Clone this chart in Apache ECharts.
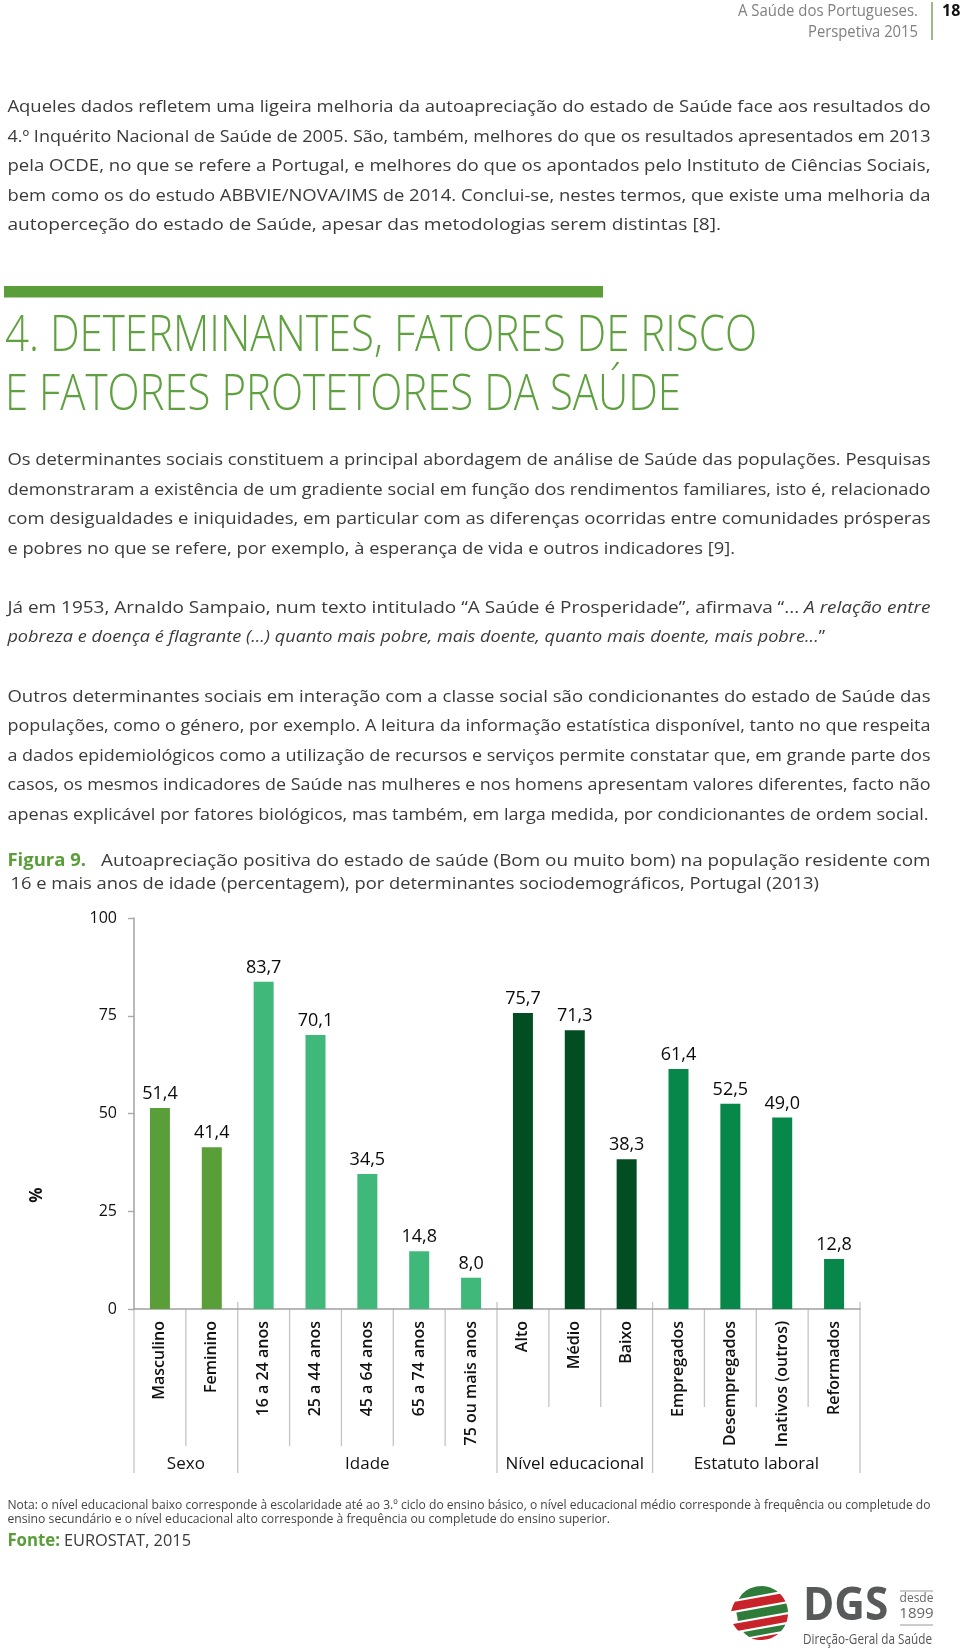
<!DOCTYPE html>
<html><head><meta charset="utf-8">
<script src="https://cdn.jsdelivr.net/npm/echarts@6.0.0/dist/echarts.min.js"></script>
<style>html,body{margin:0;padding:0;background:#fff}#c{width:960px;height:1648px}</style>
</head><body><div id="c"></div>
<script>
// ---------- data ----------
const categories = ['Masculino','Feminino','16 a 24 anos','25 a 44 anos','45 a 64 anos','65 a 74 anos','75 ou mais anos','Alto','Médio','Baixo','Empregados','Desempregados','Inativos (outros)','Reformados'];
const values = [51.4,41.4,83.7,70.1,34.5,14.8,8.0,75.7,71.3,38.3,61.4,52.5,49.0,12.8];
const groupNames = ['Sexo','Idade','Nível educacional','Estatuto laboral'];
const groupSizes = [2,5,3,4];
const groupColors = ['#5a9e3a','#40b879','#034d22','#07884a'];
const yTickMin = 0, yTickMax = 100, yTickStep = 25;

const FONT = "'Open Sans', 'Noto Sans', sans-serif";
const GREEN = '#5a9e3a';
const BODY = '#3a3a3a';

const cv = document.createElement('canvas').getContext('2d');
function measure(t, size, weight, style){ cv.font = `${style||'normal'} ${weight||'normal'} ${size}px ${FONT}`; return cv.measureText(t).width; }
function T(text, x, y, o){ o=o||{};
  return {type:'text', x, y, scaleX:o.sx||1, rotation:o.rot||0, silent:true,
    style:{text, fill:o.color||BODY, fontSize:o.size||17, fontFamily:FONT, fontWeight:o.weight||'normal', fontStyle:o.style||'normal',
      textAlign:o.align||'left', align:o.align||'left', textVerticalAlign:'middle', verticalAlign:'middle'}};
}
function fitLine(parts, x0, x1, y, base){
  const ws = parts.map(p=>measure(p.t, base.size, p.weight||base.weight, p.style||base.style));
  const total = ws.reduce((a,b)=>a+b,0);
  const sx = (x1-x0)/total;
  let cx = x0; const out=[];
  parts.forEach((p,i)=>{ out.push(T(p.t, cx, y, Object.assign({}, base, p, {sx}))); cx += ws[i]*sx; });
  return out;
}

const chart = echarts.init(document.getElementById('c'), null, {renderer:'canvas'});
const colorOf = [];
groupSizes.forEach((n,g)=>{ for(let k=0;k<n;k++) colorOf.push(groupColors[g]); });

chart.setOption({
  animation:false,
  backgroundColor:'#fff',
  grid:{left:134, right:100, top:918, bottom:339, containLabel:false, outerBoundsMode:'none'},
  xAxis:{type:'category', data:categories, boundaryGap:true,
    axisLine:{lineStyle:{color:'#a0a0a0', width:1.6}}, axisTick:{show:false},
    axisLabel:{interval:0, rotate:90, margin:12, fontSize:16, fontWeight:600, color:'#111', fontFamily:FONT}},
  yAxis:{type:'value', min:yTickMin, max:yTickMax, interval:yTickStep,
    axisLine:{show:true, lineStyle:{color:'#a8a8a8', width:1.6}},
    axisTick:{show:true, length:6, lineStyle:{color:'#a8a8a8', width:1.4}},
    splitLine:{show:false},
    axisLabel:{margin:17, fontSize:16, color:'#111', fontFamily:FONT}},
  series:[{type:'bar', barWidth:20,
    data: values.map((v,i)=>({value:v, itemStyle:{color:colorOf[i]}})),
    label:{show:true, position:'top', distance:5, fontSize:18, color:'#0a0a0a', fontFamily:FONT,
      formatter:p=>p.value.toFixed(1).replace('.',',')}}]
});

// ---------- page graphics ----------
const G = [];
// header
fitLine([{t:'A Saúde dos Portugueses.'}], 738, 918, 11, {size:16, color:'#808080'}).forEach(e=>G.push(e));
fitLine([{t:'Perspetiva 2015'}], 808, 918, 32, {size:16, color:'#808080'}).forEach(e=>G.push(e));
G.push({type:'line', silent:true, shape:{x1:932,y1:2,x2:932,y2:40}, style:{stroke:'#7aa35e', lineWidth:1.5}});
G.push(T('18', 942, 11, {size:16, weight:'bold', color:'#111'}));

const body = {size:17, color:BODY};
function para(lines, x0, ys, ends){
  lines.forEach((l,i)=>{ const parts = typeof l==='string' ? [{t:l}] : l; fitLine(parts, x0, ends[i], ys[i], body).forEach(e=>G.push(e)); });
}
para([
 'Aqueles dados refletem uma ligeira melhoria da autoapreciação do estado de Saúde face aos resultados do',
 '4.º Inquérito Nacional de Saúde de 2005. São, também, melhores do que os resultados apresentados em 2013',
 'pela OCDE, no que se refere a Portugal, e melhores do que os apontados pelo Instituto de Ciências Sociais,',
 'bem como os do estudo ABBVIE/NOVA/IMS de 2014. Conclui-se, nestes termos, que existe uma melhoria da',
 'autoperceção do estado de Saúde, apesar das metodologias serem distintas [8].'
], 7.4, [107,137,166,196,225], [930.5,930.5,930.5,930.5,721]);

// green bar + heading
G.push({type:'rect', silent:true, shape:{x:4, y:286, width:599, height:11.5}, style:{fill:GREEN}});
fitLine([{t:'4. DETERMINANTES, FATORES DE RISCO'}], 5, 757, 336.5, {size:50, weight:300, color:'#5fa03f'}).forEach(e=>G.push(e));
fitLine([{t:'E FATORES PROTETORES DA SAÚDE'}], 5, 681, 395.5, {size:50, weight:300, color:'#5fa03f'}).forEach(e=>G.push(e));

para([
 'Os determinantes sociais constituem a principal abordagem de análise de Saúde das populações. Pesquisas',
 'demonstraram a existência de um gradiente social em função dos rendimentos familiares, isto é, relacionado',
 'com desigualdades e iniquidades, em particular com as diferenças ocorridas entre comunidades prósperas',
 'e pobres no que se refere, por exemplo, à esperança de vida e outros indicadores [9].'
], 7.4, [460.5,490,519.5,549], [930.5,930.5,930.5,735]);

para([
 [{t:'Já em 1953, Arnaldo Sampaio, num texto intitulado “A Saúde é Prosperidade”, afirmava “... '},{t:'A relação entre', style:'italic'}],
 [{t:'pobreza e doença é flagrante (...) quanto mais pobre, mais doente, quanto mais doente, mais pobre...', style:'italic'},{t:'”'}]
], 7.4, [608,637], [930.5,825]);

para([
 'Outros determinantes sociais em interação com a classe social são condicionantes do estado de Saúde das',
 'populações, como o género, por exemplo. A leitura da informação estatística disponível, tanto no que respeita',
 'a dados epidemiológicos como a utilização de recursos e serviços permite constatar que, em grande parte dos',
 'casos, os mesmos indicadores de Saúde nas mulheres e nos homens apresentam valores diferentes, facto não',
 'apenas explicável por fatores biológicos, mas também, em larga medida, por condicionantes de ordem social.'
], 7.4, [697,726.5,756,785.5,815], [930.5,930.5,930.5,930.5,928.5]);

// caption
fitLine([{t:'Figura 9.', weight:'bold', color:GREEN}], 7.4, 86, 861, body).forEach(e=>G.push(e));
fitLine([{t:'Autoapreciação positiva do estado de saúde (Bom ou muito bom) na população residente com'}], 101, 930.5, 861, body).forEach(e=>G.push(e));
fitLine([{t:'16 e mais anos de idade (percentagem), por determinantes sociodemográficos, Portugal (2013)'}], 10.5, 819, 884, body).forEach(e=>G.push(e));

// note + source
const note = {size:13, color:'#444'};
fitLine([{t:'Nota: o nível educacional baixo corresponde à escolaridade até ao 3.º ciclo do ensino básico, o nível educacional médio corresponde à frequência ou completude do'}], 7.4, 930.5, 1505, note).forEach(e=>G.push(e));
fitLine([{t:'ensino secundário e o nível educacional alto corresponde à frequência ou completude do ensino superior.'}], 7.4, 610, 1519.5, note).forEach(e=>G.push(e));
fitLine([{t:'Fonte:', weight:'bold', color:GREEN}], 7.4, 60, 1541.5, body).forEach(e=>G.push(e));
fitLine([{t:'EUROSTAT, 2015'}], 64, 191, 1541.5, body).forEach(e=>G.push(e));

// % label
G.push(T('%', 37, 1195, {align:'center', size:17, weight:'bold', color:'#111', rot:Math.PI/2}));

// separators and group labels computed from the axis
const p0 = chart.convertToPixel({gridIndex:0}, [0, 0]);
const p1 = chart.convertToPixel({gridIndex:0}, [1, 0]);
const step = p1[0]-p0[0];
const y0 = p0[1];
const bx = i => p0[0] + (i-0.5)*step;
const groupEdges = [0]; groupSizes.forEach(n=>groupEdges.push(groupEdges[groupEdges.length-1]+n));
const sepColor = '#c4c4c4';
for(let i=0;i<=categories.length;i++){
  const isEdge = groupEdges.includes(i);
  let g = 0; while(g < groupSizes.length-1 && i >= groupEdges[g+1]) g++;
  let top = y0, bot;
  if(isEdge){ bot = 1473; top = i===0 ? y0 : y0-7; }
  else bot = (g<=1) ? 1446 : 1407;
  G.push({type:'line', silent:true, shape:{x1:bx(i), y1:top, x2:bx(i), y2:bot}, style:{stroke:sepColor, lineWidth:1.3}});
}
groupNames.forEach((n,g)=>{
  const cx = (bx(groupEdges[g]) + bx(groupEdges[g+1]))/2;
  G.push(T(n, cx, 1464, {align:'center', size:17, color:'#111'}));
});

// logo
(function(){
  const cx=761, cy=1613, r=27;
  const bands=[[-1,-0.66,'#2e7b3a'],[-0.58,-0.26,'#c8232b'],[-0.18,0.14,'#2e7b3a'],[0.22,0.5,'#c8232b'],[0.58,0.8,'#2e7b3a'],[0.87,1,'#c8232b']];
  const kids=[];
  bands.forEach(([a,b,c],k)=>{
    const pts=[]; const N=14; const sh = (k%2? -4: 3);
    for(let j=0;j<=N;j++){ const y=(a+(b-a)*j/N)*r; pts.push([Math.sqrt(Math.max(0,r*r-y*y)), y]); }
    for(let j=N;j>=0;j--){ const y=(a+(b-a)*j/N)*r; pts.push([-Math.sqrt(Math.max(0,r*r-y*y))+sh*(1-Math.abs(y)/r), y]); }
    kids.push({type:'polygon', shape:{points:pts}, style:{fill:c}});
  });
  G.push({type:'group', x:cx, y:cy, rotation:0.18, silent:true, children:kids});
  G.push({type:'text', x:803, y:1607, silent:true, style:{text:'DGS', fill:'#58595b', fontSize:46, fontWeight:'bold', fontFamily:FONT, align:'left', textAlign:'left', verticalAlign:'middle', textVerticalAlign:'middle'}, scaleX:0.92});
  G.push({type:'line', silent:true, shape:{x1:900,y1:1591,x2:933,y2:1591}, style:{stroke:'#999', lineWidth:1}});
  G.push({type:'line', silent:true, shape:{x1:900,y1:1625,x2:933,y2:1625}, style:{stroke:'#999', lineWidth:1}});
  G.push(T('desde', 916.5, 1599, {align:'center', size:12, color:'#666'}));
  G.push(T('1899', 916.5, 1614, {align:'center', size:15, color:'#666'}));
  fitLine([{t:'Direção-Geral da Saúde'}], 803, 932, 1640, {size:14, color:'#555'}).forEach(e=>G.push(e));
})();

chart.setOption({graphic:{elements:G}});
</script>
</body></html>
